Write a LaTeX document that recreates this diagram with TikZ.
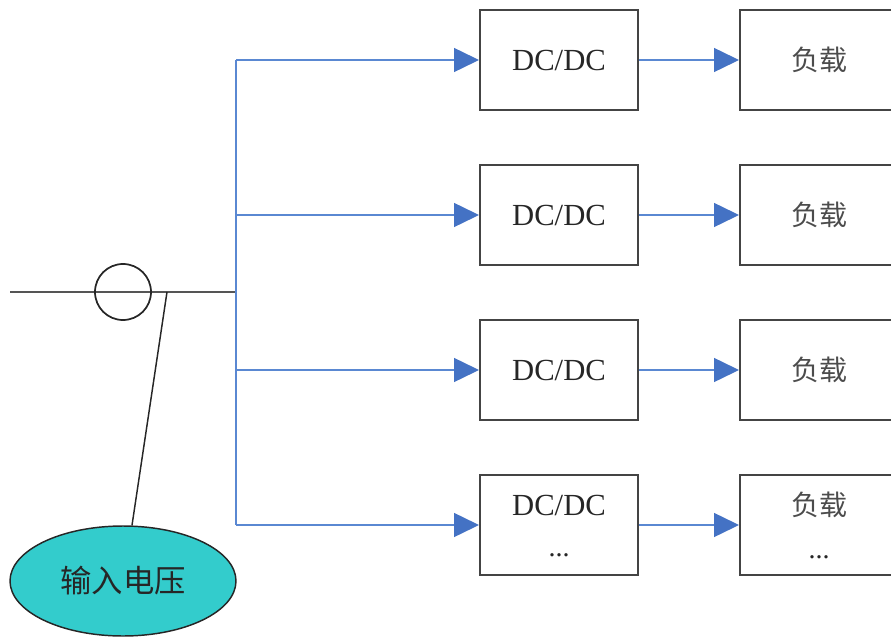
\documentclass[tikz,border=0pt]{standalone}
\usepackage{fontspec}
\setmainfont{Liberation Serif}
\newfontfamily\cjk{Noto Sans CJK SC}
\usetikzlibrary{arrows.meta,shapes.geometric}
\definecolor{wireblue}{HTML}{5A88D2}
\definecolor{tipblue}{HTML}{4472C4}
\definecolor{boxgray}{HTML}{444444}
\definecolor{busgray}{HTML}{555555}
\definecolor{teal}{HTML}{33CCCC}
\tikzset{
  unit/.style={draw=boxgray, line width=1.5pt, minimum width=158*0.75pt, minimum height=100*0.75pt, inner sep=0pt},
  conv/.style={unit, font=\fontsize{23}{26}\selectfont, text=black!85},
  load/.style={unit, font=\cjk\fontsize{21}{26}\selectfont, text=black!70},
  more/.style={anchor=base, inner sep=0pt, font=\fontsize{21}{24}\selectfont, text=black!85},
  feed/.style={draw=wireblue, line width=1.1pt, -{Triangle[length=25*0.75pt, width=24*0.75pt, color=tipblue]}},
  wire/.style={draw=wireblue, line width=1.1pt},
  bus/.style={draw=busgray, line width=1.9pt}
}
\begin{document}
\begin{tikzpicture}[x=0.75pt, y=-0.75pt]
\useasboundingbox (0,0) rectangle (891,638);
\clip (0,0) rectangle (891,638);
% main input line with the current sensor ring
\coordinate (busL) at (10,292);
\coordinate (busR) at (236,292);
\coordinate (tap) at (167,292);
\draw[bus] (busL) -- (busR);
\node[circle, draw=black!85, line width=1.3pt, minimum size=56*0.75pt, inner sep=0pt] (ring) at (123,292) {};
\node[ellipse, draw=black!85, line width=1.1pt, fill=teal, minimum width=226*0.75pt, minimum height=110*0.75pt, inner sep=0pt, font=\cjk\fontsize{23.5}{26}\selectfont, text=black!85] (vin) at (123,581) {输入电压};
\draw[black!85, line width=1.1pt] (tap) -- (vin.north -| 132,0);
% distribution rail
\coordinate (railT) at (236,60);
\coordinate (railB) at (236,525);
\draw[wire] (railT) -- (railB);
% converter and load columns
\foreach \i/\y in {1/60, 2/215, 3/370} {
  \node[conv] (dc\i) at (559,\y) {DC/DC};
  \node[load] (ld\i) at (819,\y) {负载};
  \coordinate (br\i) at (236,\y);
  \draw[feed] (br\i) -- (dc\i.west);
  \draw[feed] (dc\i.east) -- (ld\i.west);
}
\node[conv] (dc4) at (559,525) {};
\node[font=\fontsize{23}{26}\selectfont, text=black!85] (dc4t) at (559,505) {DC/DC};
\node[more] (dc4d) at (559,556) {...};
\node[load] (ld4) at (819,525) {};
\node[font=\cjk\fontsize{21}{26}\selectfont, text=black!70] (ld4t) at (819,505) {负载};
\node[more] (ld4d) at (819,558) {...};
\coordinate (br4) at (236,525);
\draw[feed] (br4) -- (dc4.west);
\draw[feed] (dc4.east) -- (ld4.west);
\end{tikzpicture}
\end{document}
